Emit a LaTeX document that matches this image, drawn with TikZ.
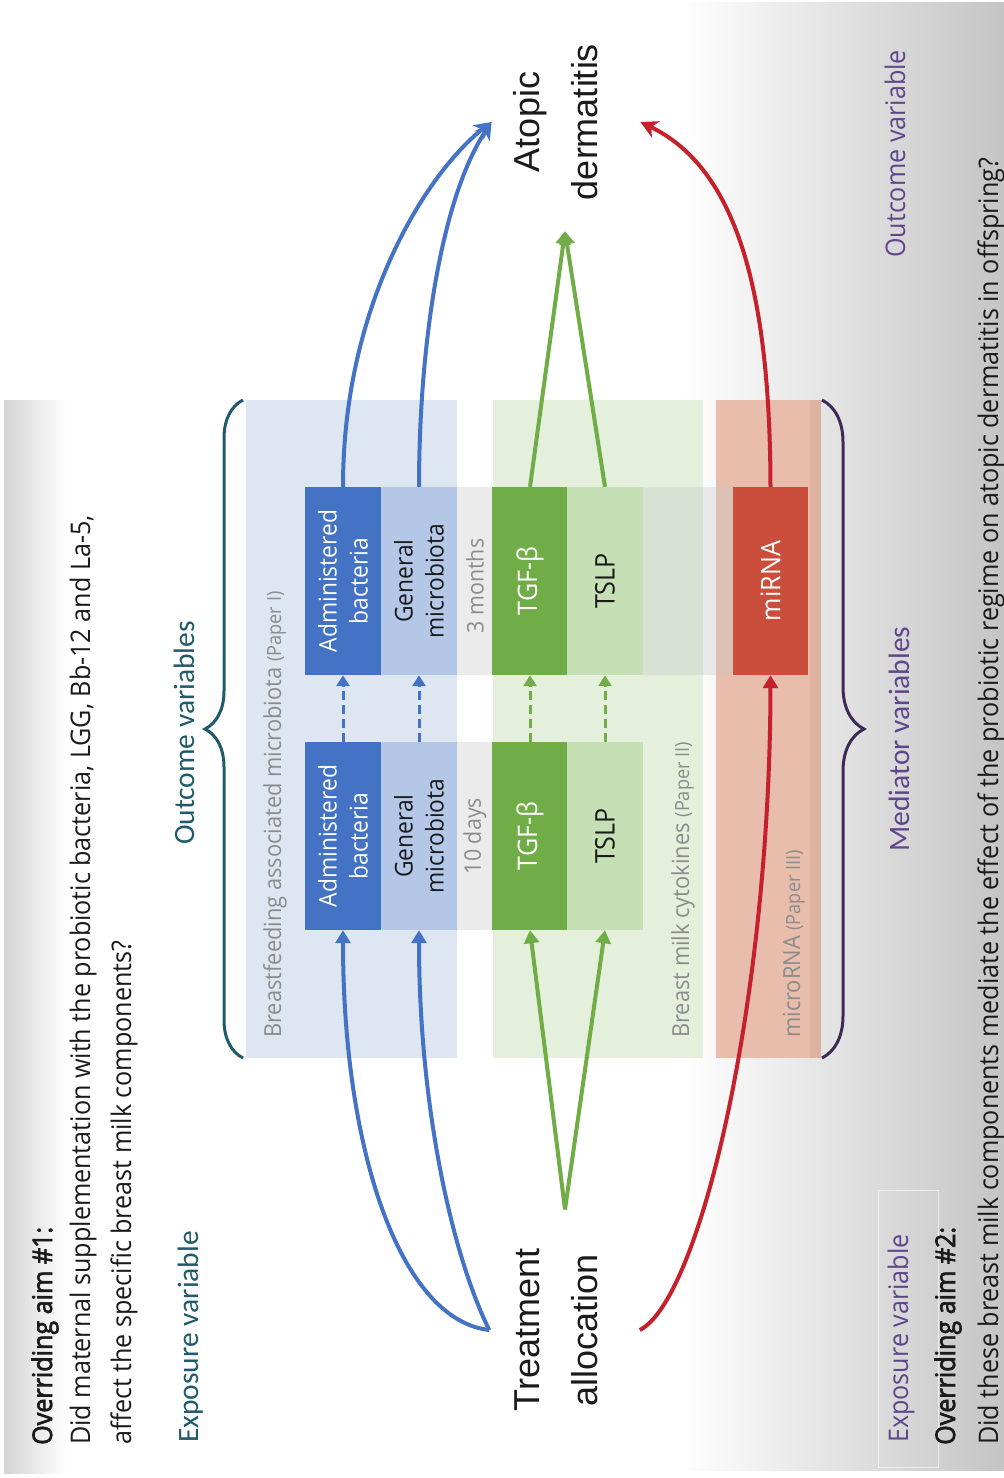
\documentclass[tikz,border=0pt]{standalone}
\usepackage{fontspec}
\newfontfamily\segfont[FakeStretch=0.93]{Open Sans}
\newfontfamily\segsb[FakeStretch=0.93,FakeBold=2.5]{Open Sans}
\newfontfamily\calfont{Carlito}
\newfontfamily\arifont{Liberation Sans}
\usetikzlibrary{arrows.meta,decorations.pathreplacing,calc}
\definecolor{cblue}{HTML}{4472C4}
\definecolor{clblue}{HTML}{B4C7E7}
\definecolor{cgreen}{HTML}{70AD47}
\definecolor{clgreen}{HTML}{C5E0B4}
\definecolor{cmir}{HTML}{CA4E3B}
\definecolor{cred}{HTML}{C5212D}
\definecolor{pblue}{HTML}{DEE6F2}
\definecolor{pgreen}{HTML}{E4EFDC}
\definecolor{pred}{HTML}{E8BDAB}
\definecolor{pred2}{HTML}{DFB1A1}
\definecolor{tealc}{HTML}{1F5B6B}
\definecolor{purp}{HTML}{5F468C}
\definecolor{bpurp}{HTML}{3D2B56}
\definecolor{gtext}{HTML}{8C8C8C}
\definecolor{dtext}{HTML}{1A1A1A}
\begin{document}
\begin{tikzpicture}[x=1pt,y=-1pt,
  rt/.style={rotate=90,inner sep=0pt},
  boxn/.style={rt,minimum width=188pt,minimum height=76pt,align=center,font=\segfont\fontsize{24.5}{31}\selectfont},
  onew/.style={font=\segfont\fontsize{27}{31}\selectfont},
  aimtxt/.style={rt,anchor=base west,text=dtext,font=\segfont\fontsize{27}{30}\selectfont},
  calbl/.style={rt,font=\calfont\fontsize{29.5}{32}\selectfont},
  paneltxt/.style={rt,anchor=base west,text=gtext,font=\segfont\fontsize{23.5}{26}\selectfont},
  bigtxt/.style={rt,align=center,text=dtext,font=\arifont\fontsize{36}{58}\selectfont},
  tri/.style={-{Triangle[width=15pt,length=13pt]}},
  stl/.style={-{Stealth[width=18pt,length=17pt,inset=5pt]}},
  bline/.style={draw=cblue,line width=4pt},
  gline/.style={draw=cgreen,line width=4pt},
  rline/.style={draw=cred,line width=4pt},
  dline/.style={line width=3pt,dash pattern=on 9pt off 5pt,-{Triangle[width=13pt,length=11pt]}}
]
\useasboundingbox (0,0) rectangle (1004,1478);
\fill[white] (0,0) rectangle (1004,1478);
% backgrounds
\shade[left color=black!17,right color=white] (4,400) rectangle (67,1473);
\shade[left color=white,right color=black!23] (680,2) rectangle (1004,1470);
\draw[white,line width=1pt,opacity=0.6] (878,1190) rectangle (938,1467);
% panels
\fill[pblue] (246,400) rectangle (457,1058);
\fill[pgreen] (493,400) rectangle (703,1058);
\fill[pred] (716,400) rectangle (810,1058);
\fill[pred2] (810,400) rectangle (821,1058);
% bands
\fill[black!22,opacity=0.35] (305,487) rectangle (808,675);
\fill[black!22,opacity=0.35] (305,742) rectangle (643,930);
% boxes
\node[boxn,fill=cblue,text=white] (adm1) at (343,581) {Administered\\bacteria};
\node[boxn,fill=clblue,text=dtext] (gen1) at (419,581) {General\\microbiota};
\node[boxn,onew,fill=cgreen,text=white] (tgf1) at (530,581) {TGF-β};
\node[boxn,onew,fill=clgreen,text=dtext] (tslp1) at (605,581) {TSLP};
\node[boxn,onew,fill=cmir,text=white,minimum height=75pt] (mir) at (770.5,581) {miRNA};
\node[boxn,fill=cblue,text=white] (adm2) at (343,836) {Administered\\bacteria};
\node[boxn,fill=clblue,text=dtext] (gen2) at (419,836) {General\\microbiota};
\node[boxn,onew,fill=cgreen,text=white] (tgf2) at (530,836) {TGF-β};
\node[boxn,onew,fill=clgreen,text=dtext] (tslp2) at (605,836) {TSLP};
\node[rt,text=gtext,font=\segfont\fontsize{23}{26}\selectfont] (m3) at (475,586) {3 months};
\node[rt,text=gtext,font=\segfont\fontsize{23}{26}\selectfont] (d10) at (475,836) {10 days};
% panel labels
\node[paneltxt] (lab1) at (281,1038) {Breastfeeding associated microbiota {\fontsize{19.5}{22}\selectfont (Paper I)}};
\node[paneltxt] (lab2) at (689,1038) {Breast milk cytokines {\fontsize{19.5}{22}\selectfont (Paper II)}};
\node[paneltxt] (lab3) at (800,1038) {microRNA {\fontsize{19.5}{22}\selectfont (Paper III)}};
% main nodes
\node[bigtxt] (ta) at (556,1330) {Treatment\\allocation};
\node[bigtxt] (ad) at (556,122) {Atopic\\dermatitis};
% texts left
\node[aimtxt,font=\segsb\fontsize{27}{30}\selectfont] (aim1) at (52,1445) {Overriding aim \#1:};
\node[aimtxt] (q1a) at (90,1445) {Did maternal supplementation with the probiotic bacteria, LGG, Bb-12 and La-5,};
\node[aimtxt] (q1b) at (131,1445) {affect the specific breast milk components?};
\node[calbl,anchor=base west,text=tealc] (exp1) at (198,1443) {Exposure variable};
\node[calbl,anchor=base,text=tealc] (outv) at (194,733) {Outcome variables};
% texts right
\node[calbl,anchor=base,text=purp] (medv) at (909,739) {Mediator variables};
\node[aimtxt,text=purp] (out2) at (905,258) {Outcome variable};
\node[aimtxt,text=purp] (exp2) at (908,1443) {Exposure variable};
\node[aimtxt,font=\segsb\fontsize{27}{30}\selectfont] (aim2) at (955,1445) {Overriding aim \#2:};
\node[aimtxt] (q2) at (998,1445) {Did these breast milk components mediate the effect of the probiotic regime on atopic dermatitis in offspring?};
% braces
\draw[tealc,line width=3pt,decorate,decoration={brace,amplitude=38pt}] (243,1058) -- (243,400);
\draw[bpurp,line width=3pt,decorate,decoration={brace,amplitude=42pt}] (822,400) -- (822,1058);
% blue connectors
\draw[bline,tri] ([xshift=-25pt]ta.north) .. controls (400,1320) and (343,1150) .. (adm2.west);
\draw[bline,tri] ([xshift=-25pt]ta.north) .. controls (450,1250) and (419,1100) .. (gen2.west);
\draw[bline,dline] (adm2.east) -- (adm1.west);
\draw[bline,dline] (gen2.east) -- (gen1.west);
\draw[bline,stl] (adm1.east) .. controls (343,300) and (430,170) .. ([xshift=-22pt]ad.north);
\draw[bline,stl] (gen1.east) .. controls (419,350) and (440,200) .. ([xshift=-22pt]ad.north);
% green connectors
\draw[gline,tri] ([shift={(9pt,39pt)}]ta.east) -- (tgf2.west);
\draw[gline,tri] ([shift={(9pt,39pt)}]ta.east) -- (tslp2.west);
\draw[gline,dline] (tgf2.east) -- (tgf1.west);
\draw[gline,dline] (tslp2.east) -- (tslp1.west);
\draw[gline,tri] (tgf1.east) -- ([shift={(9pt,-31pt)}]ad.west);
\draw[gline,tri] (tslp1.east) -- ([shift={(9pt,-31pt)}]ad.west);
% red connectors
\draw[rline,tri] ([xshift=42pt]ta.south) .. controls (700,1300) and (770,1000) .. (mir.west);
\draw[rline,stl] (mir.east) .. controls (770,300) and (740,170) .. ([xshift=42pt]ad.south);
\end{tikzpicture}
\end{document}
